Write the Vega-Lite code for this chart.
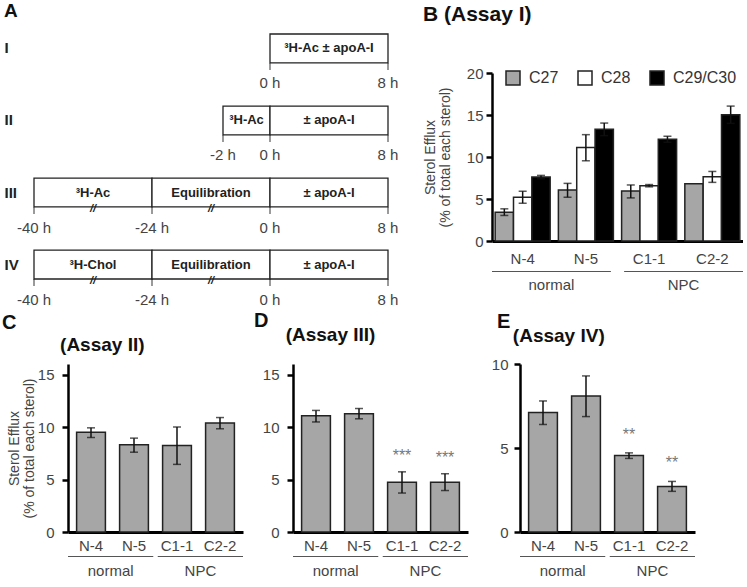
{
  "$schema": "https://vega.github.io/schema/vega-lite/v6.json",
  "padding": {"left": 2, "top": 2, "right": 0, "bottom": 0},
  "background": "white",
  "config": {
    "font": "Liberation Sans",
    "view": {"stroke": null},
    "title": {"font": "Liberation Sans", "fontWeight": "bold", "color": "#111", "subtitleFont": "Liberation Sans", "subtitleFontWeight": "bold", "subtitleColor": "#111", "subtitleFontSize": 19},
    "axis": {"labelFont": "Liberation Sans", "labelColor": "#444", "labelFontSize": 15, "domainColor": "#000", "tickColor": "#000", "grid": false}
  },
  "columns": 1,
  "align": "none",
  "spacing": -7,
  "resolve": {"scale": {"fill": "independent"}, "legend": {"fill": "independent"}},
  "concat": [
    {
      "align": "none",
      "spacing": 24,
      "resolve": {"scale": {"fill": "independent"}, "legend": {"fill": "independent"}},
      "concat": [
        {
          "width": 320, "height": 206,
          "title": {"text": "A", "anchor": "start", "frame": "group", "dx": -64, "fontSize": 19, "offset": 12},
          "layer": [
            {
              "data": {"values": [
                {"row": "I", "start": 0, "end": 8, "label": "³H-Ac ± apoA-I"},
                {"row": "II", "start": -2, "end": 0, "label": "³H-Ac"},
                {"row": "II", "start": 0, "end": 8, "label": "± apoA-I"},
                {"row": "III", "start": -40, "end": -24, "label": "³H-Ac"},
                {"row": "III", "start": -24, "end": 0, "label": "Equilibration"},
                {"row": "III", "start": 0, "end": 8, "label": "± apoA-I"},
                {"row": "IV", "start": -40, "end": -24, "label": "³H-Chol"},
                {"row": "IV", "start": -24, "end": 0, "label": "Equilibration"},
                {"row": "IV", "start": 0, "end": 8, "label": "± apoA-I"}
              ]},
              "transform": [{"calculate": "(datum.start + datum.end) / 2", "as": "mid"}],
              "layer": [
                {
                  "mark": {"type": "rect", "fill": "white", "stroke": "#222", "strokeWidth": 1.3},
                  "encoding": {
                    "x": {"field": "start", "type": "quantitative", "scale": {"domain": [-40, -24, -12, -2, 0, 8], "range": [-34, 84, 143, 155, 202, 320], "nice": false, "zero": false}, "axis": null},
                    "x2": {"field": "end"},
                    "y": {"field": "row", "type": "nominal", "scale": {"domain": ["I", "II", "III", "IV"], "range": [-39, 206], "paddingInner": 0.6, "paddingOuter": 0}, "axis": {"title": null, "domain": false, "ticks": false, "labelAlign": "left", "labelPadding": 64, "labelFontSize": 15, "labelFontWeight": "bold", "labelColor": "#222", "labelFont": "Liberation Sans", "minExtent": 0}}
                  }
                },
                {
                  "mark": {"type": "text", "fontSize": 13, "fontWeight": "bold", "color": "#222", "baseline": "middle"},
                  "encoding": {
                    "x": {"field": "mid", "type": "quantitative"},
                    "y": {"field": "row", "type": "nominal"},
                    "text": {"field": "label"}
                  }
                }
              ]
            },
            {
              "data": {"values": [
                {"row": "I", "t": 0, "lab": "0 h"}, {"row": "I", "t": 8, "lab": "8 h"},
                {"row": "II", "t": -2, "lab": "-2 h"}, {"row": "II", "t": 0, "lab": "0 h"}, {"row": "II", "t": 8, "lab": "8 h"},
                {"row": "III", "t": -40, "lab": "-40 h"}, {"row": "III", "t": -24, "lab": "-24 h"}, {"row": "III", "t": 0, "lab": "0 h"}, {"row": "III", "t": 8, "lab": "8 h"},
                {"row": "IV", "t": -40, "lab": "-40 h"}, {"row": "IV", "t": -24, "lab": "-24 h"}, {"row": "IV", "t": 0, "lab": "0 h"}, {"row": "IV", "t": 8, "lab": "8 h"}
              ]},
              "layer": [
                {
                  "mark": {"type": "tick", "size": 7, "thickness": 1.3, "color": "#222", "yOffset": 18},
                  "encoding": {
                    "x": {"field": "t", "type": "quantitative"},
                    "y": {"field": "row", "type": "nominal"}
                  }
                },
                {
                  "mark": {"type": "text", "fontSize": 15, "color": "#444", "baseline": "middle", "dy": 35},
                  "encoding": {
                    "x": {"field": "t", "type": "quantitative"},
                    "y": {"field": "row", "type": "nominal"},
                    "text": {"field": "lab"}
                  }
                }
              ]
            },
            {
              "data": {"values": [
                {"row": "III", "t": -32}, {"row": "III", "t": -12},
                {"row": "IV", "t": -32}, {"row": "IV", "t": -12}
              ]},
              "mark": {"type": "text", "text": "//", "fontSize": 11, "fontStyle": "italic", "fontWeight": "bold", "color": "#222", "baseline": "middle", "dy": 16},
              "encoding": {
                "x": {"field": "t", "type": "quantitative"},
                "y": {"field": "row", "type": "nominal"}
              }
            }
          ]
        },
        {
          "width": 251, "height": 168,
          "title": {"text": "B\u00a0(Assay I)", "anchor": "start", "frame": "group", "dx": -69, "fontSize": 21, "offset": 41},
          "data": {"values": [
            {"s": "N-4", "st": "C27", "v": 3.43, "lo": 3.04, "hi": 3.83},
            {"s": "N-4", "st": "C28", "v": 5.21, "lo": 4.5, "hi": 5.92},
            {"s": "N-4", "st": "C29/C30", "v": 7.61, "lo": 7.41, "hi": 7.81},
            {"s": "N-5", "st": "C27", "v": 6.07, "lo": 5.21, "hi": 6.86},
            {"s": "N-5", "st": "C28", "v": 11.12, "lo": 9.55, "hi": 12.66},
            {"s": "N-5", "st": "C29/C30", "v": 13.29, "lo": 12.54, "hi": 14.04},
            {"s": "C1-1", "st": "C27", "v": 5.96, "lo": 5.13, "hi": 6.67},
            {"s": "C1-1", "st": "C28", "v": 6.59, "lo": 6.45, "hi": 6.72},
            {"s": "C1-1", "st": "C29/C30", "v": 12.11, "lo": 11.75, "hi": 12.47},
            {"s": "C2-2", "st": "C27", "v": 6.82, "lo": null, "hi": null},
            {"s": "C2-2", "st": "C28", "v": 7.65, "lo": 6.98, "hi": 8.28},
            {"s": "C2-2", "st": "C29/C30", "v": 15.03, "lo": 14.0, "hi": 16.06}
          ]},
          "layer": [
            {
              "layer": [
                {
                  "mark": {"type": "bar", "stroke": "#222", "strokeWidth": 1.5},
                  "encoding": {
                    "x": {"field": "s", "type": "nominal", "scale": {"domain": ["N-4", "N-5", "C1-1", "C2-2"], "paddingInner": 0.13, "paddingOuter": 0.05}, "axis": {"title": null, "labelAngle": 0, "ticks": false, "domainWidth": 3, "labelPadding": 10}},
                    "xOffset": {"field": "st", "type": "nominal", "scale": {"domain": ["C27", "C28", "C29/C30"]}},
                    "y": {"field": "v", "type": "quantitative", "scale": {"domain": [0, 20]}, "axis": {"title": ["Sterol Efflux", "(% of total each sterol)"], "values": [0, 5, 10, 15, 20], "domainWidth": 2.5, "tickWidth": 2.5, "tickSize": 6, "labelPadding": 3, "titleFontSize": 14, "titleFontWeight": "normal", "titleColor": "#444", "titlePadding": 14, "titleLineHeight": 15}},
                    "fill": {"field": "st", "type": "nominal", "scale": {"domain": ["C27", "C28", "C29/C30"], "range": ["#a6a6a6", "#ffffff", "#000000"]}, "legend": {"orient": "none", "legendX": 13, "legendY": -3, "direction": "horizontal", "title": null, "symbolType": "square", "symbolSize": 196, "symbolStrokeColor": "#222", "symbolStrokeWidth": 1.5, "labelFontSize": 16, "labelColor": "#333", "labelOffset": 8, "columnPadding": 16}}
                  }
                },
                {
                  "mark": {"type": "rule", "color": "#111", "strokeWidth": 1.5},
                  "encoding": {
                    "x": {"field": "s", "type": "nominal"},
                    "xOffset": {"field": "st", "type": "nominal"},
                    "y": {"field": "lo", "type": "quantitative"},
                    "y2": {"field": "hi"}
                  }
                },
                {
                  "mark": {"type": "tick", "size": 8, "thickness": 1.5, "color": "#111"},
                  "encoding": {
                    "x": {"field": "s", "type": "nominal"},
                    "xOffset": {"field": "st", "type": "nominal"},
                    "y": {"field": "lo", "type": "quantitative"}
                  }
                },
                {
                  "mark": {"type": "tick", "size": 8, "thickness": 1.5, "color": "#111"},
                  "encoding": {
                    "x": {"field": "s", "type": "nominal"},
                    "xOffset": {"field": "st", "type": "nominal"},
                    "y": {"field": "hi", "type": "quantitative"}
                  }
                }
              ]
            },
            {
              "data": {"values": [{"g": "normal"}, {"g": "NPC"}]},
              "layer": [
                {
                  "mark": {"type": "rect", "fill": "#555", "yOffset": 30, "y2Offset": 31},
                  "encoding": {
                    "x": {"field": "g", "type": "nominal", "scale": {"domain": ["normal", "NPC"], "paddingInner": 0.1, "paddingOuter": 0}, "axis": null},
                    "y": {"datum": 0, "type": "quantitative"},
                    "y2": {"datum": 0}
                  }
                },
                {
                  "mark": {"type": "text", "fontSize": 15, "color": "#444", "baseline": "middle", "dy": 44},
                  "encoding": {
                    "x": {"field": "g", "type": "nominal"},
                    "y": {"datum": 0, "type": "quantitative"},
                    "text": {"field": "g"}
                  }
                }
              ]
            }
          ],
          "resolve": {"scale": {"x": "independent"}}
        }
      ]
    },
    {
      "spacing": 11,
      "hconcat": [
        {
          "width": 175, "height": 168,
          "title": {"text": "C", "subtitle": "\u200b\u00a0\u00a0\u00a0\u00a0\u00a0\u00a0\u00a0\u00a0\u00a0\u00a0\u00a0(Assay II)", "anchor": "start", "frame": "group", "dx": -66, "fontSize": 20, "subtitlePadding": 3, "offset": 9},
          "data": {"values": [
            {"s": "N-4", "v": 9.5, "lo": 9.0, "hi": 9.92},
            {"s": "N-5", "v": 8.32, "lo": 7.6, "hi": 8.94},
            {"s": "C1-1", "v": 8.23, "lo": 6.44, "hi": 10.0},
            {"s": "C2-2", "v": 10.37, "lo": 9.83, "hi": 10.9}
          ]},
          "layer": [
            {
              "layer": [
                {
                  "mark": {"type": "bar", "fill": "#a6a6a6", "stroke": "#222", "strokeWidth": 1.5},
                  "encoding": {
                    "x": {"field": "s", "type": "nominal", "scale": {"domain": ["N-4", "N-5", "C1-1", "C2-2"], "paddingInner": 0.33, "paddingOuter": 0.2}, "axis": {"title": null, "labelAngle": 0, "ticks": false, "domainWidth": 3, "labelPadding": 6}},
                    "y": {"field": "v", "type": "quantitative", "scale": {"domain": [0, 15]}, "axis": {"title": ["Sterol Efflux", "(% of total each sterol)"], "values": [0, 5, 10, 15], "domainWidth": 2.5, "tickWidth": 2.5, "tickSize": 6, "labelPadding": 8, "titleFontSize": 14, "titleFontWeight": "normal", "titleColor": "#444", "titlePadding": 1, "titleLineHeight": 15}}
                  }
                },
                {
                  "mark": {"type": "rule", "color": "#111", "strokeWidth": 1.5},
                  "encoding": {"x": {"field": "s", "type": "nominal"}, "y": {"field": "lo", "type": "quantitative"}, "y2": {"field": "hi"}}
                },
                {
                  "mark": {"type": "tick", "size": 8, "thickness": 1.5, "color": "#111"},
                  "encoding": {"x": {"field": "s", "type": "nominal"}, "y": {"field": "lo", "type": "quantitative"}}
                },
                {
                  "mark": {"type": "tick", "size": 8, "thickness": 1.5, "color": "#111"},
                  "encoding": {"x": {"field": "s", "type": "nominal"}, "y": {"field": "hi", "type": "quantitative"}}
                }
              ]
            },
            {
              "data": {"values": [{"g": "normal"}, {"g": "NPC"}]},
              "layer": [
                {
                  "mark": {"type": "rect", "fill": "#555", "yOffset": 24, "y2Offset": 25},
                  "encoding": {
                    "x": {"field": "g", "type": "nominal", "scale": {"domain": ["normal", "NPC"], "paddingInner": 0.05, "paddingOuter": 0}, "axis": null},
                    "y": {"datum": 0, "type": "quantitative"},
                    "y2": {"datum": 0}
                  }
                },
                {
                  "mark": {"type": "text", "fontSize": 15, "color": "#444", "baseline": "middle", "dy": 39},
                  "encoding": {"x": {"field": "g", "type": "nominal"}, "y": {"datum": 0, "type": "quantitative"}, "text": {"field": "g"}}
                }
              ]
            }
          ],
          "resolve": {"scale": {"x": "independent"}}
        },
        {
          "width": 175, "height": 168,
          "title": {"text": "D", "subtitle": "\u200b\u00a0\u00a0\u00a0\u00a0\u00a0\u00a0(Assay III)", "anchor": "start", "frame": "group", "dx": -39, "fontSize": 20, "subtitlePadding": -5, "offset": 19},
          "data": {"values": [
            {"s": "N-4", "v": 11.08, "lo": 10.48, "hi": 11.58},
            {"s": "N-5", "v": 11.26, "lo": 10.78, "hi": 11.76},
            {"s": "C1-1", "v": 4.75, "lo": 3.71, "hi": 5.73, "sig": "***"},
            {"s": "C2-2", "v": 4.75, "lo": 3.95, "hi": 5.55, "sig": "***"}
          ]},
          "layer": [
            {
              "layer": [
                {
                  "mark": {"type": "bar", "fill": "#a6a6a6", "stroke": "#222", "strokeWidth": 1.5},
                  "encoding": {
                    "x": {"field": "s", "type": "nominal", "scale": {"domain": ["N-4", "N-5", "C1-1", "C2-2"], "paddingInner": 0.33, "paddingOuter": 0.2}, "axis": {"title": null, "labelAngle": 0, "ticks": false, "domainWidth": 3, "labelPadding": 6}},
                    "y": {"field": "v", "type": "quantitative", "scale": {"domain": [0, 15]}, "axis": {"title": null, "values": [0, 5, 10, 15], "domainWidth": 2.5, "tickWidth": 2.5, "tickSize": 6, "labelPadding": 8}}
                  }
                },
                {
                  "mark": {"type": "rule", "color": "#111", "strokeWidth": 1.5},
                  "encoding": {"x": {"field": "s", "type": "nominal"}, "y": {"field": "lo", "type": "quantitative"}, "y2": {"field": "hi"}}
                },
                {
                  "mark": {"type": "tick", "size": 8, "thickness": 1.5, "color": "#111"},
                  "encoding": {"x": {"field": "s", "type": "nominal"}, "y": {"field": "lo", "type": "quantitative"}}
                },
                {
                  "mark": {"type": "tick", "size": 8, "thickness": 1.5, "color": "#111"},
                  "encoding": {"x": {"field": "s", "type": "nominal"}, "y": {"field": "hi", "type": "quantitative"}}
                },
                {
                  "transform": [{"filter": "datum.sig != null"}],
                  "mark": {"type": "text", "fontSize": 16, "color": "#777", "baseline": "middle", "dy": -16},
                  "encoding": {"x": {"field": "s", "type": "nominal"}, "y": {"field": "hi", "type": "quantitative"}, "text": {"field": "sig"}}
                }
              ]
            },
            {
              "data": {"values": [{"g": "normal"}, {"g": "NPC"}]},
              "layer": [
                {
                  "mark": {"type": "rect", "fill": "#555", "yOffset": 24, "y2Offset": 25},
                  "encoding": {
                    "x": {"field": "g", "type": "nominal", "scale": {"domain": ["normal", "NPC"], "paddingInner": 0.05, "paddingOuter": 0}, "axis": null},
                    "y": {"datum": 0, "type": "quantitative"},
                    "y2": {"datum": 0}
                  }
                },
                {
                  "mark": {"type": "text", "fontSize": 15, "color": "#444", "baseline": "middle", "dy": 39},
                  "encoding": {"x": {"field": "g", "type": "nominal"}, "y": {"datum": 0, "type": "quantitative"}, "text": {"field": "g"}}
                }
              ]
            }
          ],
          "resolve": {"scale": {"x": "independent"}}
        },
        {
          "width": 175, "height": 168,
          "title": {"text": "E", "subtitle": "\u200b\u00a0\u00a0\u00a0(Assay IV)", "anchor": "start", "frame": "group", "dx": -23, "fontSize": 20, "subtitlePadding": -5, "offset": 11},
          "data": {"values": [
            {"s": "N-4", "v": 7.11, "lo": 6.4, "hi": 7.8},
            {"s": "N-5", "v": 8.1, "lo": 6.87, "hi": 9.29},
            {"s": "C1-1", "v": 4.55, "lo": 4.38, "hi": 4.71, "sig": "**"},
            {"s": "C2-2", "v": 2.71, "lo": 2.42, "hi": 3.01, "sig": "**"}
          ]},
          "layer": [
            {
              "layer": [
                {
                  "mark": {"type": "bar", "fill": "#a6a6a6", "stroke": "#222", "strokeWidth": 1.5},
                  "encoding": {
                    "x": {"field": "s", "type": "nominal", "scale": {"domain": ["N-4", "N-5", "C1-1", "C2-2"], "paddingInner": 0.33, "paddingOuter": 0.2}, "axis": {"title": null, "labelAngle": 0, "ticks": false, "domainWidth": 3, "labelPadding": 6}},
                    "y": {"field": "v", "type": "quantitative", "scale": {"domain": [0, 10]}, "axis": {"title": null, "values": [0, 5, 10], "domainWidth": 2.5, "tickWidth": 2.5, "tickSize": 6, "labelPadding": 6, "minExtent": 41}}
                  }
                },
                {
                  "mark": {"type": "rule", "color": "#111", "strokeWidth": 1.5},
                  "encoding": {"x": {"field": "s", "type": "nominal"}, "y": {"field": "lo", "type": "quantitative"}, "y2": {"field": "hi"}}
                },
                {
                  "mark": {"type": "tick", "size": 8, "thickness": 1.5, "color": "#111"},
                  "encoding": {"x": {"field": "s", "type": "nominal"}, "y": {"field": "lo", "type": "quantitative"}}
                },
                {
                  "mark": {"type": "tick", "size": 8, "thickness": 1.5, "color": "#111"},
                  "encoding": {"x": {"field": "s", "type": "nominal"}, "y": {"field": "hi", "type": "quantitative"}}
                },
                {
                  "transform": [{"filter": "datum.sig != null"}],
                  "mark": {"type": "text", "fontSize": 16, "color": "#777", "baseline": "middle", "dy": -18},
                  "encoding": {"x": {"field": "s", "type": "nominal"}, "y": {"field": "hi", "type": "quantitative"}, "text": {"field": "sig"}}
                }
              ]
            },
            {
              "data": {"values": [{"g": "normal"}, {"g": "NPC"}]},
              "layer": [
                {
                  "mark": {"type": "rect", "fill": "#555", "yOffset": 24, "y2Offset": 25},
                  "encoding": {
                    "x": {"field": "g", "type": "nominal", "scale": {"domain": ["normal", "NPC"], "paddingInner": 0.05, "paddingOuter": 0}, "axis": null},
                    "y": {"datum": 0, "type": "quantitative"},
                    "y2": {"datum": 0}
                  }
                },
                {
                  "mark": {"type": "text", "fontSize": 15, "color": "#444", "baseline": "middle", "dy": 39},
                  "encoding": {"x": {"field": "g", "type": "nominal"}, "y": {"datum": 0, "type": "quantitative"}, "text": {"field": "g"}}
                }
              ]
            }
          ],
          "resolve": {"scale": {"x": "independent"}}
        }
      ]
    }
  ]
}
